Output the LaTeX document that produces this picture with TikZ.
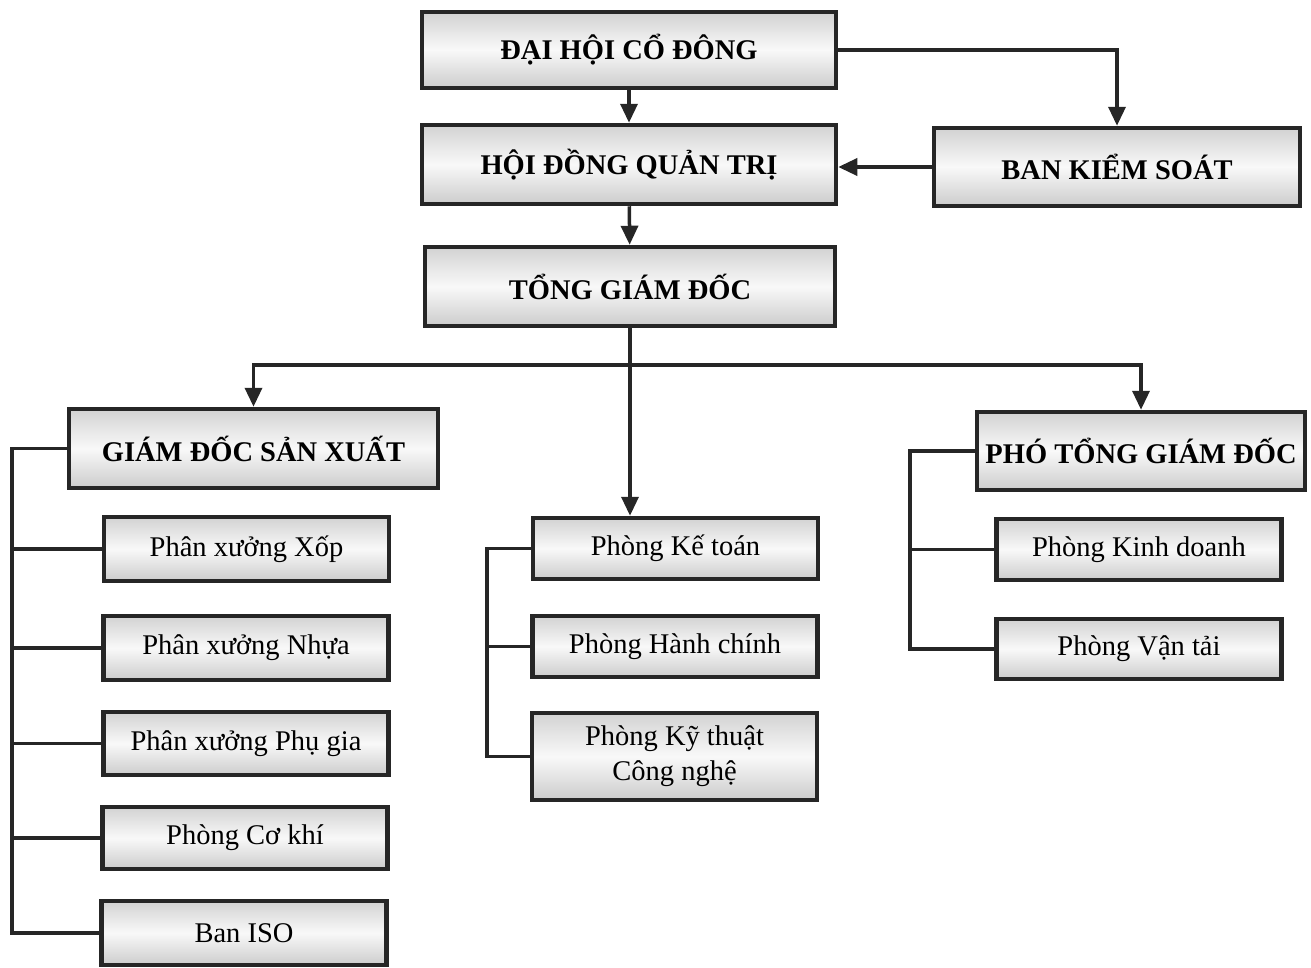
\documentclass[tikz,border=0pt]{standalone}
\usepackage{fontspec}
\setmainfont{Liberation Serif}
\usetikzlibrary{arrows.meta}
\tikzset{
  box/.style={draw=black!85, line width=4.5pt, top color=gray!35, bottom color=gray!40, middle color=gray!5,
    inner sep=0pt, align=center},
  headbox/.style={box, font=\fontsize{28.5}{31}\selectfont\bfseries},
  unitbox/.style={box, minimum width=285pt, font=\fontsize{28.5}{35}\selectfont},
  link/.style={line width=3.5pt, draw=black!85},
  arr/.style={link, -{Triangle[length=19pt,width=17pt]}}
}
\begin{document}
\begin{tikzpicture}[x=1pt,y=-1pt]
            \useasboundingbox (0,0) rectangle (1311,967);
            \node[headbox, minimum width=414pt, minimum height=76pt] (DH) at (629,50) {ĐẠI HỘI CỔ ĐÔNG};
            \node[headbox, minimum width=414pt, minimum height=79pt] (HD) at (629,164.5) {HỘI ĐỒNG QUẢN TRỊ};
            \node[headbox, minimum width=366pt, minimum height=78pt] (BK) at (1117,167) {BAN KIỂM SOÁT};
            \node[headbox, minimum width=410pt, minimum height=79pt] (TG) at (630,286.5) {TỔNG GIÁM ĐỐC};
            \node[headbox, minimum width=369pt, minimum height=79pt] (GD) at (253.5,448.5) {GIÁM ĐỐC SẢN XUẤT};
            \node[headbox, minimum width=328pt, minimum height=78pt] (PT) at (1141,451) {PHÓ TỔNG GIÁM ĐỐC};

            \node[unitbox, minimum height=64pt] (Xop) at (246.5,549) {Phân xưởng Xốp};
            \node[unitbox, minimum height=64pt] (Nhua) at (246,648) {Phân xưởng Nhựa};
            \node[unitbox, minimum height=63pt] (PG) at (246,743.5) {Phân xưởng Phụ gia};
            \node[unitbox, minimum height=62pt] (CK) at (245,838) {Phòng Cơ khí};
            \node[unitbox, minimum height=64pt] (ISO) at (244,933) {Ban ISO};

            \node[unitbox, minimum height=61pt] (KT) at (675.5,548.5) {Phòng Kế toán};
            \node[unitbox, minimum height=61pt] (HC) at (675,646.5) {Phòng Hành chính};
            \node[unitbox, minimum height=87pt] (KY) at (674.5,756.5) {Phòng Kỹ thuật\\Công nghệ};

            \node[unitbox, minimum height=61pt] (KD) at (1139,549.5) {Phòng Kinh doanh};
            \node[unitbox, minimum height=60pt] (VT) at (1139,649) {Phòng Vận tải};

            \coordinate (split) at (630,365);
            \coordinate (busL) at (12,0);
            \coordinate (busM) at (487,0);
            \coordinate (busR) at (910,0);

            \draw[arr] (DH) -- (HD);
            \draw[arr] (HD) -- (TG);
            \draw[arr] (DH.east) -| (BK.north);
            \draw[arr] (BK.west) -- (BK.west -| HD.east);
            \draw[link] (TG.south) -- (split);
            \draw[arr] (split) -| (GD.north);
            \draw[arr] (split) -| (PT.north);
            \draw[arr] (split) -- (split |- KT.north);

            \draw[link] (GD.west) -| (busL |- ISO.west) -- (ISO.west);
            \foreach \n in {Xop,Nhua,PG,CK}
                \draw[link] (\n.west) -- (\n.west -| busL);
            \draw[link] (KT.west) -| (busM |- KY.west) -- (KY.west);
            \draw[link] (HC.west) -- (HC.west -| busM);
            \draw[link] (PT.west) -| (busR |- VT.west) -- (VT.west);
            \draw[link] (KD.west) -- (KD.west -| busR);
\end{tikzpicture}
\end{document}
